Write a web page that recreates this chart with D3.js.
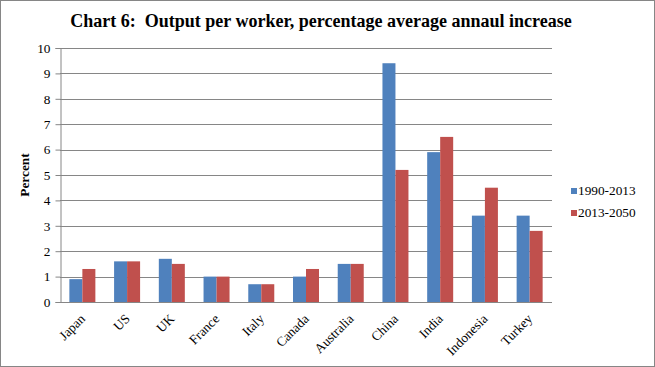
<!DOCTYPE html>
<html>
<head>
<meta charset="utf-8">
<script src="https://cdn.jsdelivr.net/npm/d3@7"></script>
<style>
  body { margin: 0; background: #fff; }
</style>
</head>
<body>
<svg id="chart" width="655" height="367"></svg>
<script>
// ** Data **
const countries = ["Japan", "US", "UK", "France", "Italy", "Canada", "Australia", "China", "India", "Indonesia", "Turkey"];
const seriesNames = ["1990-2013", "2013-2050"];
const values1990 = [0.9, 1.6, 1.7, 1.0, 0.7, 1.0, 1.5, 9.4, 5.9, 3.4, 3.4];
const values2013 = [1.3, 1.6, 1.5, 1.0, 0.7, 1.3, 1.5, 5.2, 6.5, 4.5, 2.8];
const yTicks = [0, 1, 2, 3, 4, 5, 6, 7, 8, 9, 10];
const seriesColors = ["#4F81BD", "#C0504D"];

// ** Layout **
const plot = { left: 60, right: 552, top: 48, bottom: 302 };
const gridColor = "#868686";
const serif = "Liberation Serif";
const labelSize = 13.3;

const svg = d3.select("#chart");

// outer frame
svg.append("rect")
  .attr("x", 0.5).attr("y", 0.5)
  .attr("width", 654).attr("height", 366)
  .attr("fill", "#fff")
  .attr("stroke", "#868686");

// title
svg.append("text")
  .attr("x", 321).attr("y", 27)
  .attr("text-anchor", "middle")
  .attr("font-family", serif)
  .attr("font-size", 18)
  .attr("font-weight", "bold")
  .attr("xml:space", "preserve")
  .text("Chart 6:  Output per worker, percentage average annaul increase");

// scales
const x0 = d3.scaleBand().domain(countries).range([plot.left, plot.right]).padding(0);
const x1 = d3.scaleBand().domain(seriesNames).range([0, x0.bandwidth()]).paddingInner(0).paddingOuter(0.72);
const y = d3.scaleLinear().domain([0, 10]).range([plot.bottom, plot.top]);

// gridlines
svg.append("g")
  .selectAll("line")
  .data(yTicks.filter(d => d > 0))
  .join("line")
  .attr("x1", plot.left).attr("x2", plot.right)
  .attr("y1", d => Math.round(y(d)) + 0.5).attr("y2", d => Math.round(y(d)) + 0.5)
  .attr("stroke", gridColor);

// bars
const rows = countries.map((c, i) => ({ country: c, vals: [values1990[i], values2013[i]] }));
svg.append("g")
  .selectAll("g")
  .data(rows)
  .join("g")
  .attr("transform", d => `translate(${x0(d.country)},0)`)
  .selectAll("rect")
  .data(d => d.vals.map((v, k) => ({ key: seriesNames[k], v: v, k: k })))
  .join("rect")
  .attr("x", d => x1(d.key))
  .attr("width", x1.bandwidth())
  .attr("y", d => y(d.v))
  .attr("height", d => y(0) - y(d.v))
  .attr("fill", d => seriesColors[d.k]);

// y axis
const yAxis = svg.append("g")
  .attr("transform", `translate(${plot.left + 0.5},0)`)
  .call(d3.axisLeft(y).tickValues(yTicks).tickSize(5).tickPadding(5).tickFormat(d3.format("d")));
yAxis.attr("font-family", serif).attr("font-size", labelSize);
yAxis.select(".domain").attr("stroke", gridColor);
yAxis.selectAll(".tick line").attr("stroke", gridColor);
yAxis.selectAll(".tick text").attr("fill", "#000");

// x axis line
svg.append("line")
  .attr("x1", plot.left).attr("x2", plot.right)
  .attr("y1", plot.bottom + 0.5).attr("y2", plot.bottom + 0.5)
  .attr("stroke", gridColor);

// x labels, rotated so they end under the category centre
svg.append("g")
  .selectAll("text")
  .data(countries)
  .join("text")
  .attr("transform", d => `translate(${x0(d) + x0.bandwidth() / 2 - 3},${plot.bottom + 11}) rotate(-45)`)
  .attr("text-anchor", "end")
  .attr("dy", "0.7em")
  .attr("font-family", serif)
  .attr("font-size", labelSize)
  .text(d => d);

// y axis title
svg.append("text")
  .attr("transform", `translate(29,${(plot.top + plot.bottom) / 2}) rotate(-90)`)
  .attr("text-anchor", "middle")
  .attr("font-family", serif)
  .attr("font-size", labelSize)
  .attr("font-weight", "bold")
  .text("Percent");

// legend
const legend = svg.append("g")
  .selectAll("g")
  .data(seriesNames)
  .join("g")
  .attr("transform", (d, i) => `translate(571,${188 + i * 22})`);
legend.append("rect")
  .attr("width", 6).attr("height", 6)
  .attr("fill", (d, i) => seriesColors[i]);
legend.append("text")
  .attr("x", 7).attr("y", 7)
  .attr("font-family", serif)
  .attr("font-size", labelSize)
  .text(d => d);
</script>
</body>
</html>
